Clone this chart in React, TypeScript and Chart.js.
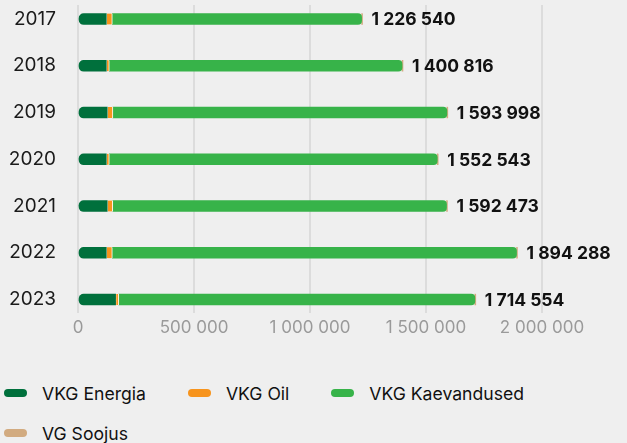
import React, { useEffect, useRef } from "react";
import { Chart, registerables } from "chart.js";

Chart.register(...registerables);

const years = ["2017", "2018", "2019", "2020", "2021", "2022", "2023"];
const seriesNames = ["VKG Energia", "VKG Oil", "VKG Kaevandused", "VG Soojus"];
const seriesColors = ["#00703c", "#f7941d", "#37b349", "#d2ab80"];
const energia = [122000, 122000, 126000, 122000, 126000, 122000, 162000];
const oil = [26000, 13000, 24500, 13000, 24000, 26000, 14000];
const kaevandused = [1074540, 1261816, 1439498, 1413543, 1438473, 1742288, 1534554];
const soojus = [4000, 4000, 4000, 4000, 4000, 4000, 4000];
const xTicks = [0, 500000, 1000000, 1500000, 2000000];

const fmt = (n: number) => Math.round(n).toString().replace(/\B(?=(\d{3})+(?!\d))/g, " ");

const FONT = "Inter, 'Noto Sans', sans-serif";

export default function App() {
  const ref = useRef<HTMLCanvasElement | null>(null);

  useEffect(() => {
    if (!ref.current) return;
    const series = [energia, oil, kaevandused, soojus];
    const toPts = (arr: number[]) => arr.map((v, i) => ({ x: v, y: i }));

    const totalsPlugin = {
      id: "totals",
      afterDatasetsDraw(chart: any) {
        const ctx = chart.ctx;
        const meta = chart.getDatasetMeta(chart.data.datasets.length - 1);
        ctx.save();
        ctx.font = `700 17.5px ${FONT}`;
        ctx.fillStyle = "#111111";
        ctx.textAlign = "left";
        ctx.textBaseline = "middle";
        years.forEach((_, i) => {
          const total = series.reduce((s, arr) => s + arr[i], 0);
          const el = meta.data[i];
          ctx.fillText(fmt(total), el.x + 9, el.y + 1);
        });
        ctx.restore();
      },
    };

    const chart = new Chart(ref.current, {
      type: "bar",
      data: {
        datasets: [
          {
            label: seriesNames[0],
            data: toPts(energia),
            backgroundColor: seriesColors[0],
            borderRadius: { topLeft: 5, bottomLeft: 5, topRight: 0, bottomRight: 0 },
            borderSkipped: false,
          },
          {
            label: seriesNames[1],
            data: toPts(oil),
            backgroundColor: seriesColors[1],
            borderColor: "#ffffff",
            borderWidth: { left: 1, right: 1, top: 0, bottom: 0 },
            borderSkipped: false,
          },
          {
            label: seriesNames[2],
            data: toPts(kaevandused),
            backgroundColor: seriesColors[2],
            borderRadius: { topLeft: 0, bottomLeft: 0, topRight: 4, bottomRight: 4 },
            borderSkipped: false,
          },
          {
            label: seriesNames[3],
            data: toPts(soojus),
            backgroundColor: seriesColors[3],
            borderRadius: { topLeft: 0, bottomLeft: 0, topRight: 4, bottomRight: 4 },
            borderSkipped: false,
          },
        ] as any,
      },
      options: {
        indexAxis: "y",
        responsive: false,
        animation: false,
        barThickness: 11,
        layout: { padding: { top: 5, right: 85, bottom: 2, left: 0 } },
        plugins: {
          legend: { display: false },
          tooltip: { enabled: false },
        },
        scales: {
          x: {
            type: "linear",
            stacked: true,
            min: 0,
            max: 2000000,
            afterBuildTicks: (s: any) => {
              s.ticks = xTicks.map((v) => ({ value: v }));
            },
            grid: { color: "#dcdcdc", lineWidth: 2, drawTicks: false },
            border: { display: false },
            ticks: {
              padding: 5,
              color: "#9a9a9a",
              font: { family: FONT, size: 17 },
              callback: (v: any) => fmt(Number(v)),
              maxRotation: 0,
            },
          },
          y: {
            type: "linear",
            stacked: true,
            reverse: true,
            offset: false,
            min: -0.3,
            max: 6.28,
            afterBuildTicks: (s: any) => {
              s.ticks = years.map((_, i) => ({ value: i }));
            },
            afterFit: (s: any) => {
              s.width = 78;
            },
            grid: { display: false, drawTicks: true, tickLength: 22, offset: false },
            border: { display: false },
            ticks: {
              padding: 0,
              color: "#1a1a1a",
              font: { family: FONT, size: 19, lineHeight: 0.5 },
              callback: (v: any) => years[Math.round(Number(v))] ?? "",
            },
          },
        },
      } as any,
      plugins: [totalsPlugin],
    });
    return () => chart.destroy();
  }, []);

  return (
    <div
      style={{
        position: "absolute",
        left: 0,
        top: 0,
        width: 627,
        height: 443,
        background: "#efefef",
        overflow: "hidden",
        fontFamily: FONT,
      }}
    >
      <canvas ref={ref} width={627} height={345} style={{ display: "block" }} />
      <div
        style={{
          position: "absolute",
          left: 4,
          top: 381,
          width: 620,
          display: "flex",
          flexWrap: "wrap",
          columnGap: 42,
          rowGap: 16,
        }}
      >
        {seriesNames.map((name, i) => (
          <div key={name} style={{ display: "flex", alignItems: "center", height: 24 }}>
            <span
              style={{
                display: "inline-block",
                width: 23,
                height: 8,
                borderRadius: 4,
                background: seriesColors[i],
                marginRight: 15,
              }}
            />
            <span style={{ fontSize: 17.6, color: "#111111", whiteSpace: "nowrap" }}>{name}</span>
          </div>
        ))}
      </div>
    </div>
  );
}
